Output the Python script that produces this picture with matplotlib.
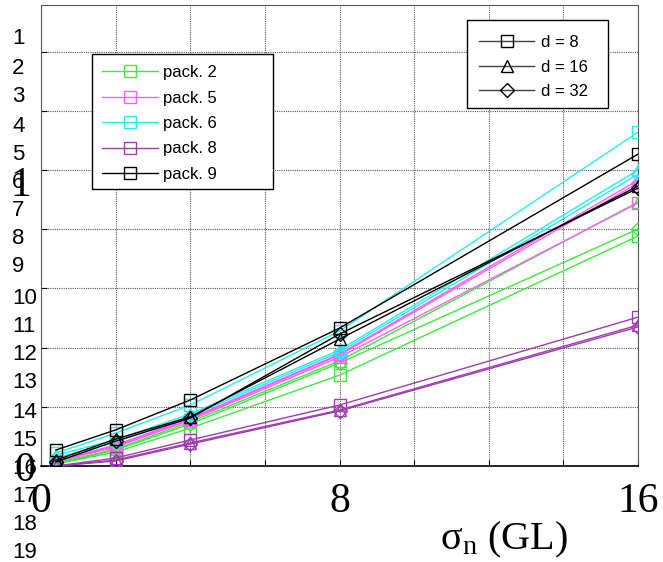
import matplotlib
matplotlib.use("Agg")
import matplotlib.pyplot as plt
from matplotlib.lines import Line2D
from matplotlib.patches import Rectangle

# ---------------- data ----------------
x_vals = [0.4, 2, 4, 8, 16]

packs = ["pack. 2", "pack. 5", "pack. 6", "pack. 8", "pack. 9"]
pack_colors = ["#3ee83e", "#ff5cff", "#22eeee", "#a03ab0", "#000000"]
d_labels = ["d = 8", "d = 16", "d = 32"]
d_markers = ["s", "^", "D"]

# values per pack, per d (8, 16, 32)
pack2_d8 = [0.007, 0.047, 0.128, 0.307, 0.777]
pack2_d16 = [0.010, 0.057, 0.149, 0.355, 0.892]
pack2_d32 = [0.007, 0.054, 0.142, 0.348, 0.801]

pack5_d8 = [0.014, 0.064, 0.155, 0.368, 0.889]
pack5_d16 = [0.017, 0.071, 0.162, 0.378, 0.966]
pack5_d32 = [0.014, 0.068, 0.159, 0.375, 0.956]

pack6_d8 = [0.044, 0.111, 0.206, 0.456, 1.128]
pack6_d16 = [0.037, 0.088, 0.176, 0.392, 1.000]
pack6_d32 = [0.027, 0.081, 0.169, 0.385, 0.986]

pack8_d8 = [0.000, 0.027, 0.088, 0.206, 0.503]
pack8_d16 = [0.000, 0.020, 0.078, 0.189, 0.476]
pack8_d32 = [0.000, 0.017, 0.074, 0.186, 0.470]

pack9_d8 = [0.054, 0.122, 0.223, 0.466, 1.054]
pack9_d16 = [0.020, 0.091, 0.166, 0.429, 0.946]
pack9_d32 = [0.014, 0.084, 0.162, 0.446, 0.939]

series = [
    [pack2_d8, pack2_d16, pack2_d32],
    [pack5_d8, pack5_d16, pack5_d32],
    [pack6_d8, pack6_d16, pack6_d32],
    [pack8_d8, pack8_d16, pack8_d32],
    [pack9_d8, pack9_d16, pack9_d32],
]

x_ticks = [0, 2, 4, 6, 8, 10, 12, 14, 16]
x_ticklabels = ["0", "", "", "", "8", "", "", "", "16"]
y_ticks = [0, 0.2, 0.4, 0.6, 0.8, 1.0, 1.2, 1.4]
y_label_texts = ["0", "1"]
side_numbers = [str(i) for i in range(1, 20)]

# ---------------- figure ----------------
plt.rcParams["mathtext.fontset"] = "custom"
plt.rcParams["mathtext.rm"] = "Liberation Serif"
plt.rcParams["mathtext.it"] = "Liberation Serif"
plt.rcParams["mathtext.default"] = "rm"

W, H = 663, 562
fig = plt.figure(figsize=(W / 100, H / 100), dpi=100)
ax_l, ax_r, ax_t, ax_b = 41, 638, 5, 466
ax = fig.add_axes([ax_l / W, 1 - ax_b / H, (ax_r - ax_l) / W, (ax_b - ax_t) / H])

msizes = {"s": 8.5, "^": 9, "D": 7}
for ci, pack_series in enumerate(series):
    for di, ys in enumerate(pack_series):
        m = d_markers[di]
        ax.plot(x_vals, ys, color=pack_colors[ci], lw=1.0, marker=m,
                markersize=msizes[m], markerfacecolor="none",
                markeredgecolor=pack_colors[ci], markeredgewidth=1.0,
                clip_on=True, zorder=3)

ax.set_xlim(0, 16)
ax.set_ylim(0, 1.558)
ax.set_xticks(x_ticks)
ax.set_xticklabels(x_ticklabels)
ax.set_yticks(y_ticks)
ax.set_yticklabels([])

serif = ["Liberation Serif", "DejaVu Serif"]
for lab in ax.get_xticklabels():
    lab.set_family(serif)
    lab.set_fontsize(30)
ax.tick_params(axis="both", direction="in", length=4, width=0.8, color="k")
ax.tick_params(axis="x", pad=12)

ax.grid(True, color="0.35", linestyle=(0, (1, 1)), linewidth=0.8)
for side in ["top", "left", "right"]:
    ax.spines[side].set_linestyle((0, (1, 1)))
    ax.spines[side].set_color("0.35")
    ax.spines[side].set_linewidth(0.8)
ax.spines["bottom"].set_linewidth(1.2)

# y tick labels (only "0" and "1" shown, slightly below their grid lines)
fig.text(35 / W, 1 - 471 / H, y_label_texts[0], family=serif, fontsize=30,
         ha="right", va="center")
fig.text(31 / W, 1 - 186 / H, y_label_texts[1], family=serif, fontsize=30,
         ha="right", va="center")

fig.text(504 / W, 1 - 540 / H, r"$\sigma_{n}$ (GL)", family=serif,
         fontsize=29, ha="center", va="center")

# ---------------- legends ----------------
sans = ["Liberation Sans", "DejaVu Sans"]


def box(x0, y0, x1, y1):
    r = Rectangle((x0 / W, 1 - y1 / H), (x1 - x0) / W, (y1 - y0) / H,
                  transform=fig.transFigure, facecolor="white",
                  edgecolor="black", linewidth=1.0, zorder=4, clip_on=False)
    ax.add_patch(r)


box(92, 54, 273, 189)
h1 = [Line2D([0], [0], color=c, lw=1.0, marker="s", markersize=8.5,
             markerfacecolor="none", markeredgecolor=c) for c in pack_colors]
leg1 = ax.legend(h1, packs, loc="upper left",
                 bbox_to_anchor=(102 / W, 1 - 65 / H),
                 bbox_transform=fig.transFigure,
                 borderaxespad=0, borderpad=0, frameon=False,
                 handlelength=3.35, labelspacing=0.63,
                 handletextpad=0.3,
                 prop={"family": sans, "size": 12})
leg1.set_zorder(5)
ax.add_artist(leg1)

box(467, 20, 608, 108)
h2 = [Line2D([0], [0], color="0.25", lw=1.0, marker=m, markersize=msizes[m],
             markerfacecolor="none", markeredgecolor="k") for m in d_markers]
leg2 = ax.legend(h2, d_labels, loc="upper left",
                 bbox_to_anchor=(479 / W, 1 - 35 / H),
                 bbox_transform=fig.transFigure,
                 borderaxespad=0, borderpad=0, frameon=False,
                 handlelength=3.3, labelspacing=0.57,
                 handletextpad=0.42,
                 prop={"family": sans, "size": 12})
leg2.set_zorder(5)

# ---------------- stray side numbers ----------------
side_y = [38, 68, 97, 126, 154, 182, 210, 238, 267, 298,
          326, 354, 383, 412, 440, 468, 497, 525, 553]
for lbl, yy in zip(side_numbers, side_y):
    fig.text(12 / W, 1 - yy / H, lbl, family=sans, fontsize=16,
             ha="left", va="center")

fig.savefig("out.png", dpi=100)
